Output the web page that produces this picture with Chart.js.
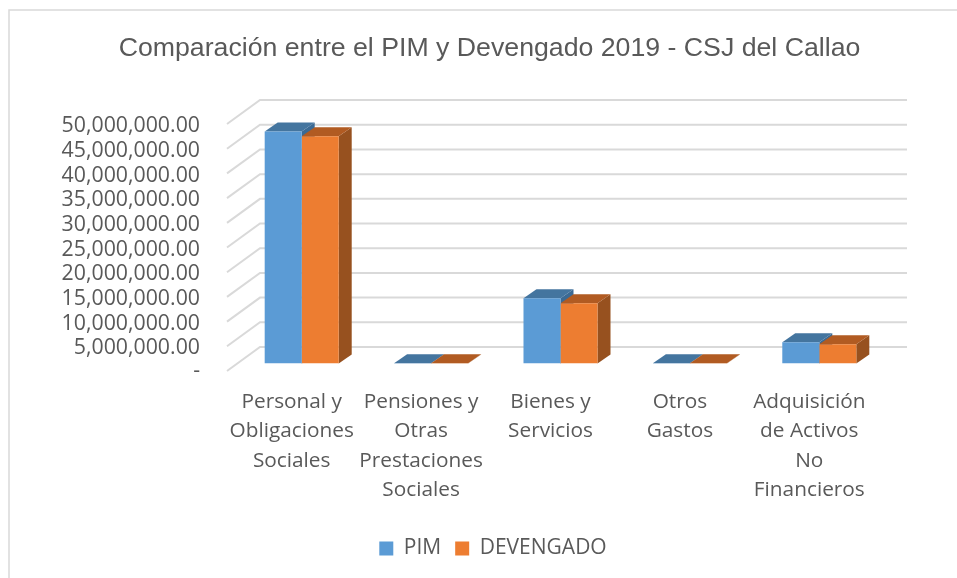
<!DOCTYPE html>
<html>
<head>
<meta charset="utf-8">
<title>PIM y Devengado 2019</title>
<script src="https://cdn.jsdelivr.net/npm/chart.js@4"></script>
<style>
    html, body { margin: 0; padding: 0; background: #fff; overflow: hidden; }
    canvas { display: block; }
</style>
</head>
<body>
<canvas id="chart" width="979" height="578"></canvas>
<script>
var categories = [
    ["Personal y", "Obligaciones", "Sociales"],
    ["Pensiones y", "Otras", "Prestaciones", "Sociales"],
    ["Bienes y", "Servicios"],
    ["Otros", "Gastos"],
    ["Adquisición", "de Activos", "No", "Financieros"]
];
var pimValues = [46950000, 60000, 13200000, 60000, 4300000];
var devengadoValues = [46000000, 50000, 12200000, 50000, 3900000];
var seriesNames = ["PIM", "DEVENGADO"];
var chartTitle = "Comparación entre el PIM y Devengado 2019 - CSJ del Callao";

var TEXT_COLOR = "#595959";
var GRID_COLOR = "#d9d9d9";
var WALL_DX = 33, WALL_DY = 24;     // depth of the floor / side wall
var BAR_DX = 13, BAR_DY = 9;        // depth of one bar
var LEGEND_SHIFT = 3.5;
var TICK_LABEL_SHIFT = 2;
var FACES = [
    {top: "#44759f", side: "#3b6a94"},
    {top: "#b15b22", side: "#97511f"}
];

function fillFace(ctx, color, points) {
    ctx.fillStyle = color;
    ctx.beginPath();
    ctx.moveTo(points[0][0], points[0][1]);
    for(var i = 1; i < points.length; i++) {
        ctx.lineTo(points[i][0], points[i][1]);
    }
    ctx.closePath();
    ctx.fill();
}

// fake 3d: walls + grid behind the bars, top and side faces for each bar
var fake3d = {
    id: "fake3d",
    afterLayout: function(chart) {
        chart.legend.left += LEGEND_SHIFT;
        chart.legend.right += LEGEND_SHIFT;
    },
    beforeDraw: function(chart) {
        var ctx = chart.ctx;
        ctx.save();
        ctx.fillStyle = "#fff";
        ctx.fillRect(0, 0, chart.width, chart.height);
        ctx.strokeStyle = GRID_COLOR;
        ctx.lineWidth = 1.5;
        ctx.beginPath();
        ctx.moveTo(9, chart.height);
        ctx.lineTo(9, 10);
        ctx.lineTo(chart.width, 10);
        ctx.stroke();
        ctx.restore();

        // the digits sit a bit high with this font, the dash is already fine
        var items = chart.scales.y.getLabelItems(chart.chartArea);
        for(var i = 0; i < items.length; i++) {
            if(items[i].label !== "-") {
                items[i].options.translation[1] += TICK_LABEL_SHIFT;
            }
        }
    },
    beforeDatasetsDraw: function(chart) {
        var ctx = chart.ctx;
        var area = chart.chartArea;
        var y = chart.scales.y;

        ctx.save();
        ctx.strokeStyle = GRID_COLOR;
        ctx.lineWidth = 2;
        for(var t = 0; t < y.ticks.length; t++) {
            var py = y.getPixelForValue(y.ticks[t].value);
            ctx.beginPath();
            ctx.moveTo(area.left, py);
            ctx.lineTo(area.left + WALL_DX, py - WALL_DY);
            ctx.lineTo(area.right + WALL_DX, py - WALL_DY);
            ctx.stroke();
        }
        ctx.restore();

        // bars stand in the middle of the floor, the library draws the fronts after this
        ctx.save();
        ctx.translate((WALL_DX - BAR_DX) / 2, -(WALL_DY - BAR_DY) / 2);

        for(var d = 0; d < chart.data.datasets.length; d++) {
            var bars = chart.getDatasetMeta(d).data;
            for(var i = 0; i < bars.length; i++) {
                var bar = bars[i];
                var left = bar.x - bar.width / 2;
                var right = bar.x + bar.width / 2;
                fillFace(ctx, FACES[d].side, [
                    [right, bar.y], [right + BAR_DX, bar.y - BAR_DY],
                    [right + BAR_DX, bar.base - BAR_DY], [right, bar.base]
                ]);
                fillFace(ctx, FACES[d].top, [
                    [left, bar.y], [left + BAR_DX, bar.y - BAR_DY],
                    [right + BAR_DX, bar.y - BAR_DY], [right, bar.y]
                ]);
            }
        }
    },
    afterDatasetsDraw: function(chart) {
        chart.ctx.restore();
    }
};

new Chart(document.getElementById("chart"), {
    type: "bar",
    data: {
        labels: categories,
        datasets: [
            {label: seriesNames[0], data: pimValues, backgroundColor: "#5b9bd5"},
            {label: seriesNames[1], data: devengadoValues, backgroundColor: "#ed7d31"}
        ]
    },
    plugins: [fake3d],
    options: {
        responsive: false,
        animation: false,
        layout: {padding: {left: 0, right: 0, top: 0, bottom: 9}},
        datasets: {bar: {categoryPercentage: 0.572, barPercentage: 1}},
        scales: {
            x: {
                grid: {display: false},
                border: {display: false},
                ticks: {
                    color: TEXT_COLOR,
                    autoSkip: false,
                    maxRotation: 0,
                    padding: 8,
                    font: {family: "'Open Sans'", size: 20.8, lineHeight: 1.42}
                },
                afterFit: function(scale) { scale.height = 153; }
            },
            y: {
                min: 0,
                max: 50000000,
                grid: {display: false},
                border: {display: false},
                ticks: {
                    stepSize: 5000000,
                    autoSkip: false,
                    color: TEXT_COLOR,
                    padding: 19,
                    font: {family: "'Open Sans'", size: 21.3},
                    callback: function(value) {
                        if(value === 0) {
                            return "-";
                        }
                        return value.toLocaleString("en-US", {minimumFractionDigits: 2});
                    }
                },
                afterFit: function(scale) { scale.width = 227; }
            },
            // keeps the plot clear of the right edge without narrowing title and legend
            spacer: {
                type: "linear",
                position: "right",
                grid: {display: false},
                border: {display: false},
                ticks: {display: false},
                afterFit: function(scale) { scale.width = 105; }
            }
        },
        plugins: {
            title: {
                display: true,
                text: chartTitle,
                color: TEXT_COLOR,
                padding: {top: 33, bottom: 59},
                font: {family: "'Liberation Sans'", size: 26.7, weight: "normal"}
            },
            legend: {
                position: "bottom",
                labels: {
                    color: TEXT_COLOR,
                    boxWidth: 14,
                    boxHeight: 14,
                    padding: 14,
                    font: {family: "'Open Sans'", size: 21}
                }
            },
            tooltip: {enabled: false}
        }
    }
});
</script>
</body>
</html>
